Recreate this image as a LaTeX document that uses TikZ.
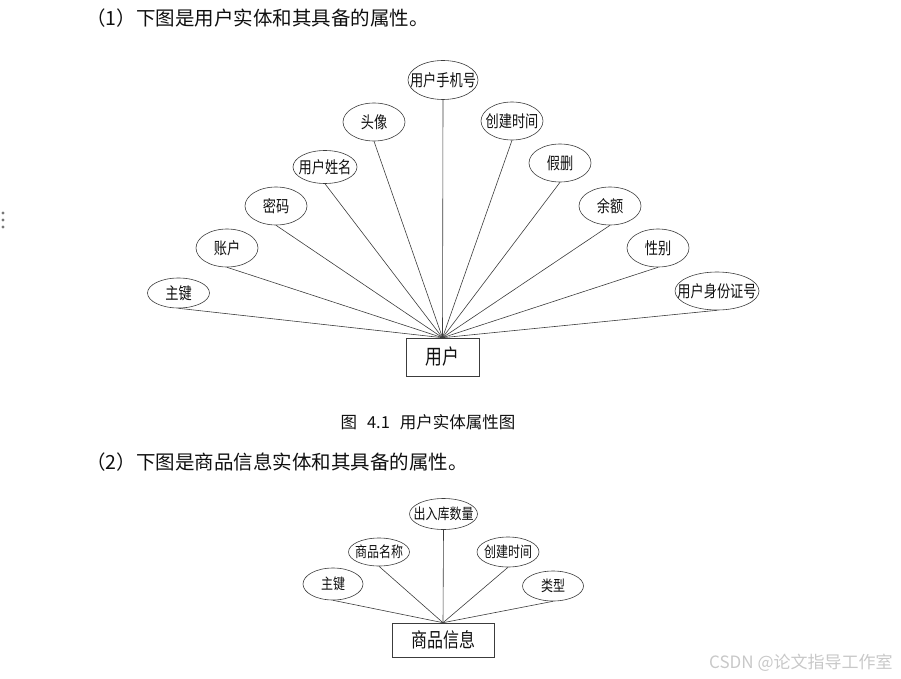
\documentclass[tikz,border=0pt]{standalone}
\usepackage{fontspec}
\usepackage{tikz}
\usetikzlibrary{shapes.geometric}
\setmainfont{Noto Sans CJK SC}
\newfontfamily\erfont[FakeStretch=0.8]{Noto Sans CJK SC}
\definecolor{erline}{RGB}{60,60,60}
\definecolor{ertext}{RGB}{15,15,15}
\definecolor{wmgray}{RGB}{200,200,200}
\definecolor{dotgray}{RGB}{120,120,120}

\begin{document}
\begin{tikzpicture}[x=1pt,y=-1pt,
    attr/.style={draw=erline, line width=0.6pt, ellipse, inner xsep=-10pt, inner ysep=0pt,
        minimum width=62pt, minimum height=38pt, text=ertext,
        font=\erfont\fontsize{16.5}{18}\selectfont},
    entity/.style={draw=erline, line width=0.6pt, rectangle, inner sep=0pt, text=ertext},
    link/.style={erline, line width=0.6pt},
    headtext/.style={anchor=west, inner sep=0pt, text=ertext, font=\fontsize{19.5}{21}\selectfont}]
    \useasboundingbox (0,0) rectangle (901,679);

    % side dots
    \fill[dotgray] (3,213) circle (1.7);
    \fill[dotgray] (3,220) circle (1.7);
    \fill[dotgray] (3,227) circle (1.7);

    % first heading
    \node[headtext] (head1) at (86,18) {（1）下图是用户实体和其具备的属性。};

    % user entity
    \node[entity, minimum width=73pt, minimum height=38pt,
        font=\erfont\fontsize{21}{24}\selectfont] (user) at (442.5,357) {用户};

    \node[attr, minimum height=30pt] (uKey) at (178.5,293) {主键};
    \node[attr] (uAccount) at (227,248) {账户};
    \node[attr] (uPwd) at (276,206) {密码};
    \node[attr, minimum width=64pt, minimum height=33pt] (uName) at (325,167) {用户姓名};
    \node[attr] (uAvatar) at (374,122) {头像};
    \node[attr, minimum width=70pt, minimum height=39pt] (uPhone) at (443,80) {用户手机号};
    \node[attr] (uCreate) at (512,121) {创建时间};
    \node[attr] (uDel) at (560,163) {假删};
    \node[attr] (uBalance) at (610,206) {余额};
    \node[attr] (uSex) at (658,248) {性别};
    \node[attr, minimum width=84pt] (uId) at (717,291) {用户身份证号};

    \foreach \a in {uKey,uAccount,uPwd,uName,uAvatar,uPhone,uCreate,uDel,uBalance,uSex,uId}
        \draw[link] (\a.south) -- (user.north);

    % caption
    \node[inner sep=0pt, text=ertext, font=\fontsize{16.5}{18}\selectfont] (cap1) at (428,422.5)
        {图\hspace{0.6em}4.1\hspace{0.6em}用户实体属性图};

    % second heading
    \node[headtext] (head2) at (86,462) {（2）下图是商品信息实体和其具备的属性。};

    % goods entity
    \node[entity, minimum width=102pt, minimum height=34pt,
        font=\erfont\fontsize{20}{22}\selectfont] (goods) at (443,640) {商品信息};

    \node[attr, minimum width=60pt, minimum height=32pt,
        font=\erfont\fontsize{15}{17}\selectfont] (gKey) at (333,584) {主键};
    \node[attr, minimum width=61pt, minimum height=28pt,
        font=\erfont\fontsize{15}{17}\selectfont] (gName) at (379,552) {商品名称};
    \node[attr, minimum width=68pt, minimum height=31pt,
        font=\erfont\fontsize{15}{17}\selectfont] (gStock) at (443.5,514) {出入库数量};
    \node[attr, minimum width=62pt, minimum height=30pt,
        font=\erfont\fontsize{15}{17}\selectfont] (gCreate) at (508,552) {创建时间};
    \node[attr, minimum width=61pt, minimum height=30pt,
        font=\erfont\fontsize{15}{17}\selectfont] (gType) at (553,586) {类型};

    \foreach \a in {gKey,gName,gStock,gCreate,gType}
        \draw[link] (\a.south) -- (goods.north);

    % watermark
    \node[anchor=west, inner sep=0pt, text=wmgray, font=\fontsize{17}{19}\selectfont] (mark) at (709,662.5)
        {CSDN @论文指导工作室};
\end{tikzpicture}
\end{document}
